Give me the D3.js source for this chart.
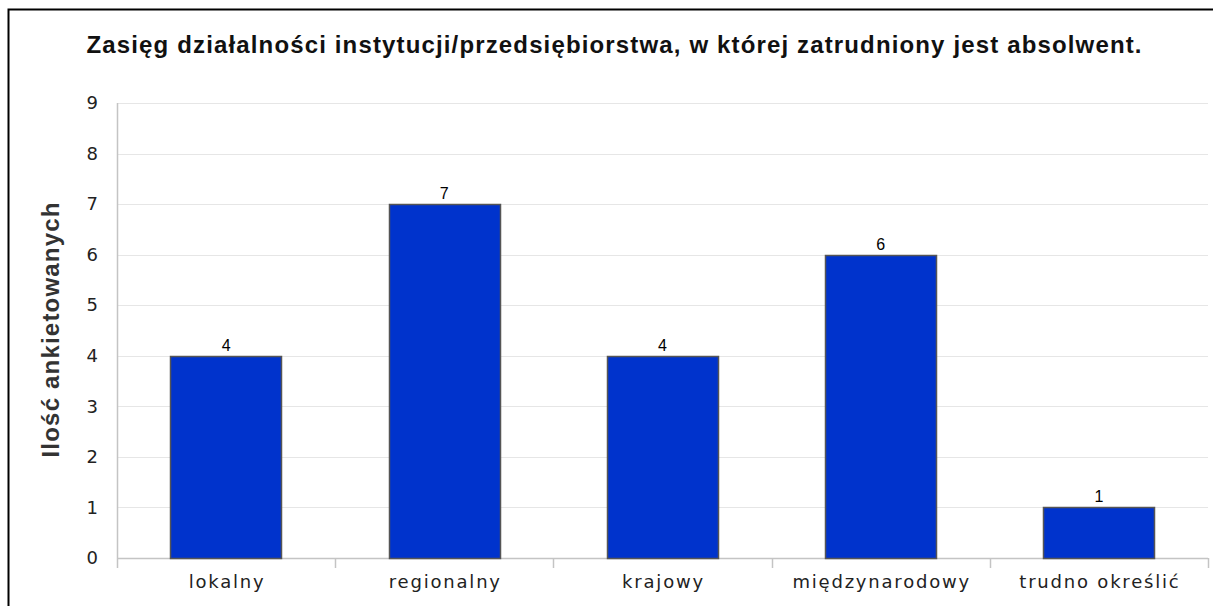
<!DOCTYPE html>
<html>
<head>
<meta charset="utf-8">
<script src="https://cdn.jsdelivr.net/npm/d3@7"></script>
<style>
  body { margin: 0; background: #fff; }
</style>
</head>
<body>
<div id="vis"></div>
<script>
const categories = ["lokalny", "regionalny", "krajowy", "międzynarodowy", "trudno określić"];
const values = [4, 7, 4, 6, 1];
const yTicks = [0, 1, 2, 3, 4, 5, 6, 7, 8, 9];
const TITLE = "Zasięg działalności instytucji/przedsiębiorstwa, w której zatrudniony jest absolwent.";
const Y_LABEL = "Ilość ankietowanych";

const FRAME_WIDTH = 1213;
const FRAME_HEIGHT = 606;
const MARGINS = {left: 117, right: 5, top: 103, bottom: 48};

const VIS_WIDTH = FRAME_WIDTH - MARGINS.left - MARGINS.right;
const VIS_HEIGHT = FRAME_HEIGHT - MARGINS.top - MARGINS.bottom;

const svg = d3.select("#vis")
  .append("svg")
    .attr("width", FRAME_WIDTH)
    .attr("height", FRAME_HEIGHT);

// outer frame, cut at right/bottom like the original
svg.append("rect")
  .attr("x", 8.5).attr("y", 9.5)
  .attr("width", FRAME_WIDTH + 20).attr("height", FRAME_HEIGHT + 20)
  .attr("fill", "none").attr("stroke", "#000").attr("stroke-width", 2);

const X_SCALE = d3.scaleBand()
  .domain(categories)
  .range([0, VIS_WIDTH])
  .paddingInner(0.49)
  .paddingOuter(0.245);

const BAND = d3.scaleBand().domain(categories).range([0, VIS_WIDTH]);

const Y_SCALE = d3.scaleLinear()
  .domain([0, 9])
  .range([VIS_HEIGHT, 0]);

const g = svg.append("g")
  .attr("transform", "translate(" + MARGINS.left + "," + MARGINS.top + ")");

// gridlines
g.selectAll(".grid")
  .data(yTicks.filter(d => d > 0))
  .enter()
  .append("line")
    .attr("x1", 0).attr("x2", VIS_WIDTH)
    .attr("y1", d => Math.round(Y_SCALE(d)) + 0.5)
    .attr("y2", d => Math.round(Y_SCALE(d)) + 0.5)
    .attr("stroke", "#e6e6e6");

// y axis
const yAxis = g.append("g")
  .call(d3.axisLeft(Y_SCALE).tickValues(yTicks).tickSize(0).tickPadding(19));
yAxis.select(".domain").remove();
yAxis.selectAll("text")
  .attr("font-family", "DejaVu Sans, Verdana, sans-serif")
  .attr("font-size", "18px")
  .attr("fill", "#222");

g.append("line")
  .attr("x1", 0.5).attr("x2", 0.5)
  .attr("y1", 0).attr("y2", VIS_HEIGHT + 10)
  .attr("stroke", "#c4c4c4").attr("stroke-width", 1.5);

// x axis
g.append("line")
  .attr("x1", 0).attr("x2", VIS_WIDTH)
  .attr("y1", VIS_HEIGHT + 0.5).attr("y2", VIS_HEIGHT + 0.5)
  .attr("stroke", "#c4c4c4").attr("stroke-width", 1.5);

g.selectAll(".xtick")
  .data(categories)
  .enter()
  .append("line")
    .attr("x1", d => Math.round(BAND(d) + BAND.step()) + 0.5)
    .attr("x2", d => Math.round(BAND(d) + BAND.step()) + 0.5)
    .attr("y1", VIS_HEIGHT).attr("y2", VIS_HEIGHT + 10)
    .attr("stroke", "#c4c4c4").attr("stroke-width", 1.5);

g.selectAll(".xlabel")
  .data(categories)
  .enter()
  .append("text")
    .attr("x", d => BAND(d) + BAND.bandwidth() / 2 + 1)
    .attr("y", VIS_HEIGHT + 30)
    .attr("text-anchor", "middle")
    .attr("font-family", "DejaVu Sans, Verdana, sans-serif")
    .attr("font-size", "18px")
    .attr("letter-spacing", "1.8px")
    .attr("fill", "#222")
    .text(d => d);

// bars
g.selectAll(".bar")
  .data(values)
  .enter()
  .append("rect")
    .attr("x", (d, i) => Math.round(X_SCALE(categories[i])) + 0.5)
    .attr("y", d => Math.round(Y_SCALE(d)) + 0.5)
    .attr("width", Math.round(X_SCALE.bandwidth()))
    .attr("height", d => Math.round(Y_SCALE(0)) - Math.round(Y_SCALE(d)))
    .attr("fill", "#0033cc")
    .attr("stroke", "#555")
    .attr("stroke-width", 1.5);

// value labels
g.selectAll(".val")
  .data(values)
  .enter()
  .append("text")
    .attr("x", (d, i) => X_SCALE(categories[i]) + X_SCALE.bandwidth() / 2)
    .attr("y", d => Y_SCALE(d) - 5)
    .attr("text-anchor", "middle")
    .attr("font-family", "Liberation Sans, Arial, sans-serif")
    .attr("font-size", "16px")
    .attr("fill", "#000")
    .text(d => d);

// title
svg.append("text")
  .attr("x", 614)
  .attr("y", 53)
  .attr("text-anchor", "middle")
  .attr("font-family", "Liberation Sans, Arial, sans-serif")
  .attr("font-weight", "bold")
  .attr("font-size", "24px")
  .attr("textLength", 1055)
  .attr("lengthAdjust", "spacing")
  .attr("fill", "#111")
  .text(TITLE);

// y label
svg.append("text")
  .attr("transform", "translate(59,330) rotate(-90)")
  .attr("text-anchor", "middle")
  .attr("font-family", "Liberation Sans, Arial, sans-serif")
  .attr("font-weight", "bold")
  .attr("font-size", "24px")
  .attr("textLength", 255)
  .attr("lengthAdjust", "spacing")
  .attr("fill", "#333")
  .text(Y_LABEL);
</script>
</body>
</html>
